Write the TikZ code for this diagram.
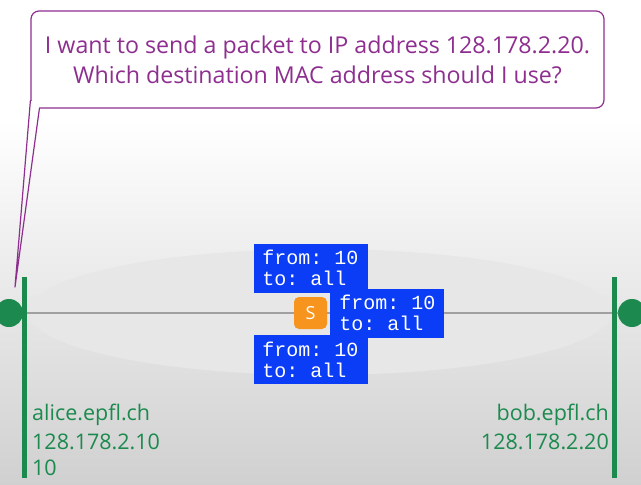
\documentclass[tikz,border=0pt]{standalone}
\usepackage{fontspec}
\setmainfont{Open Sans}
\setmonofont{Liberation Mono}
\usetikzlibrary{positioning}
\definecolor{arpPurple}{HTML}{8E2F90}
\definecolor{arpGreen}{HTML}{1C8A4E}
\definecolor{arpBlue}{HTML}{0A3DF5}
\definecolor{arpOrange}{HTML}{F7941D}
\definecolor{arpCloud}{HTML}{E7E7E7}
\definecolor{arpBus}{HTML}{A0A0A0}
\definecolor{arpFloor}{HTML}{D0D0D0}

\begin{document}
\begin{tikzpicture}[x=1pt,y=-1pt,line cap=round,line join=round]
\useasboundingbox (0,0) rectangle (641,485);
\path[fill=white] (0,0) rectangle (641,485);
\shade[top color=white,bottom color=arpFloor] (0,120) rectangle (641,485);
\tikzset{bubble/.style={draw=arpPurple,line width=1.2pt,fill=white,rounded corners=8pt,minimum width=573pt,minimum height=97pt,align=center,text=arpPurple,font=\fontsize{23.2}{30}\selectfont},
  frame/.style={fill=arpBlue,text=white,align=left,minimum width=114pt,minimum height=49pt,inner sep=0pt,font=\ttfamily\fontsize{20}{21}\selectfont},
  sender/.style={fill=arpOrange,text=white,rounded corners=5pt,minimum width=33pt,minimum height=32pt,inner sep=0pt,font=\fontsize{18}{18}\selectfont},
  hostdot/.style={circle,fill=arpGreen,minimum size=28pt,inner sep=0pt},
  hostbar/.style={fill=arpGreen,minimum width=5pt,minimum height=201pt,inner sep=0pt},
  hostlabel/.style={text=arpGreen,inner sep=0pt,font=\fontsize{21.5}{21.5}\selectfont}}
% shared medium
\fill[arpCloud] (320,312) ellipse [x radius=292, y radius=63];
\node[hostdot] (alicedot) at (9,313) {}; \node[hostdot] (bobdot) at (632,313) {};
\draw[arpBus,line width=1.6pt] (alicedot) -- (bobdot);
\node[hostbar] (alicebar) at (24.5,377.5) {}; \node[hostbar] (bobbar) at (614.5,377.5) {};
% broadcast frames around the switch
\node[sender] (sw) at (310.5,313) {S};
\node[frame,above=4pt of sw] (frameup) {from: 10\\to: all};
\node[frame,right=3pt of sw] (frameright) {from: 10\\to: all};
\node[frame,below=6pt of sw] (framedown) {from: 10\\to: all};
% host labels
\node[hostlabel,anchor=base west] (alicename) at (32,420) {alice.epfl.ch};
\node[hostlabel,anchor=base west] (aliceip) at (32,449) {128.178.2.10};
\node[hostlabel,anchor=base west] (alicemac) at (32,475) {10};
\node[hostlabel,anchor=base east] (bobname) at (609,420) {bob.epfl.ch};
\node[hostlabel,anchor=base east] (bobip) at (609,449) {128.178.2.20};
% question bubble
\node[bubble] (ask) at (317.5,59.5) {I want to send a packet to IP address 128.178.2.20.\\Which destination MAC address should I use?};
\coordinate (apex) at (15,287);
\fill[white] ([xshift=-1pt,yshift=8pt]ask.south west) rectangle ([xshift=9pt,yshift=-1pt]ask.south west);
\draw[arpPurple,line width=1.2pt] ([yshift=8pt]ask.south west) -- (apex) -- ([xshift=9pt]ask.south west);
\end{tikzpicture}
\end{document}
